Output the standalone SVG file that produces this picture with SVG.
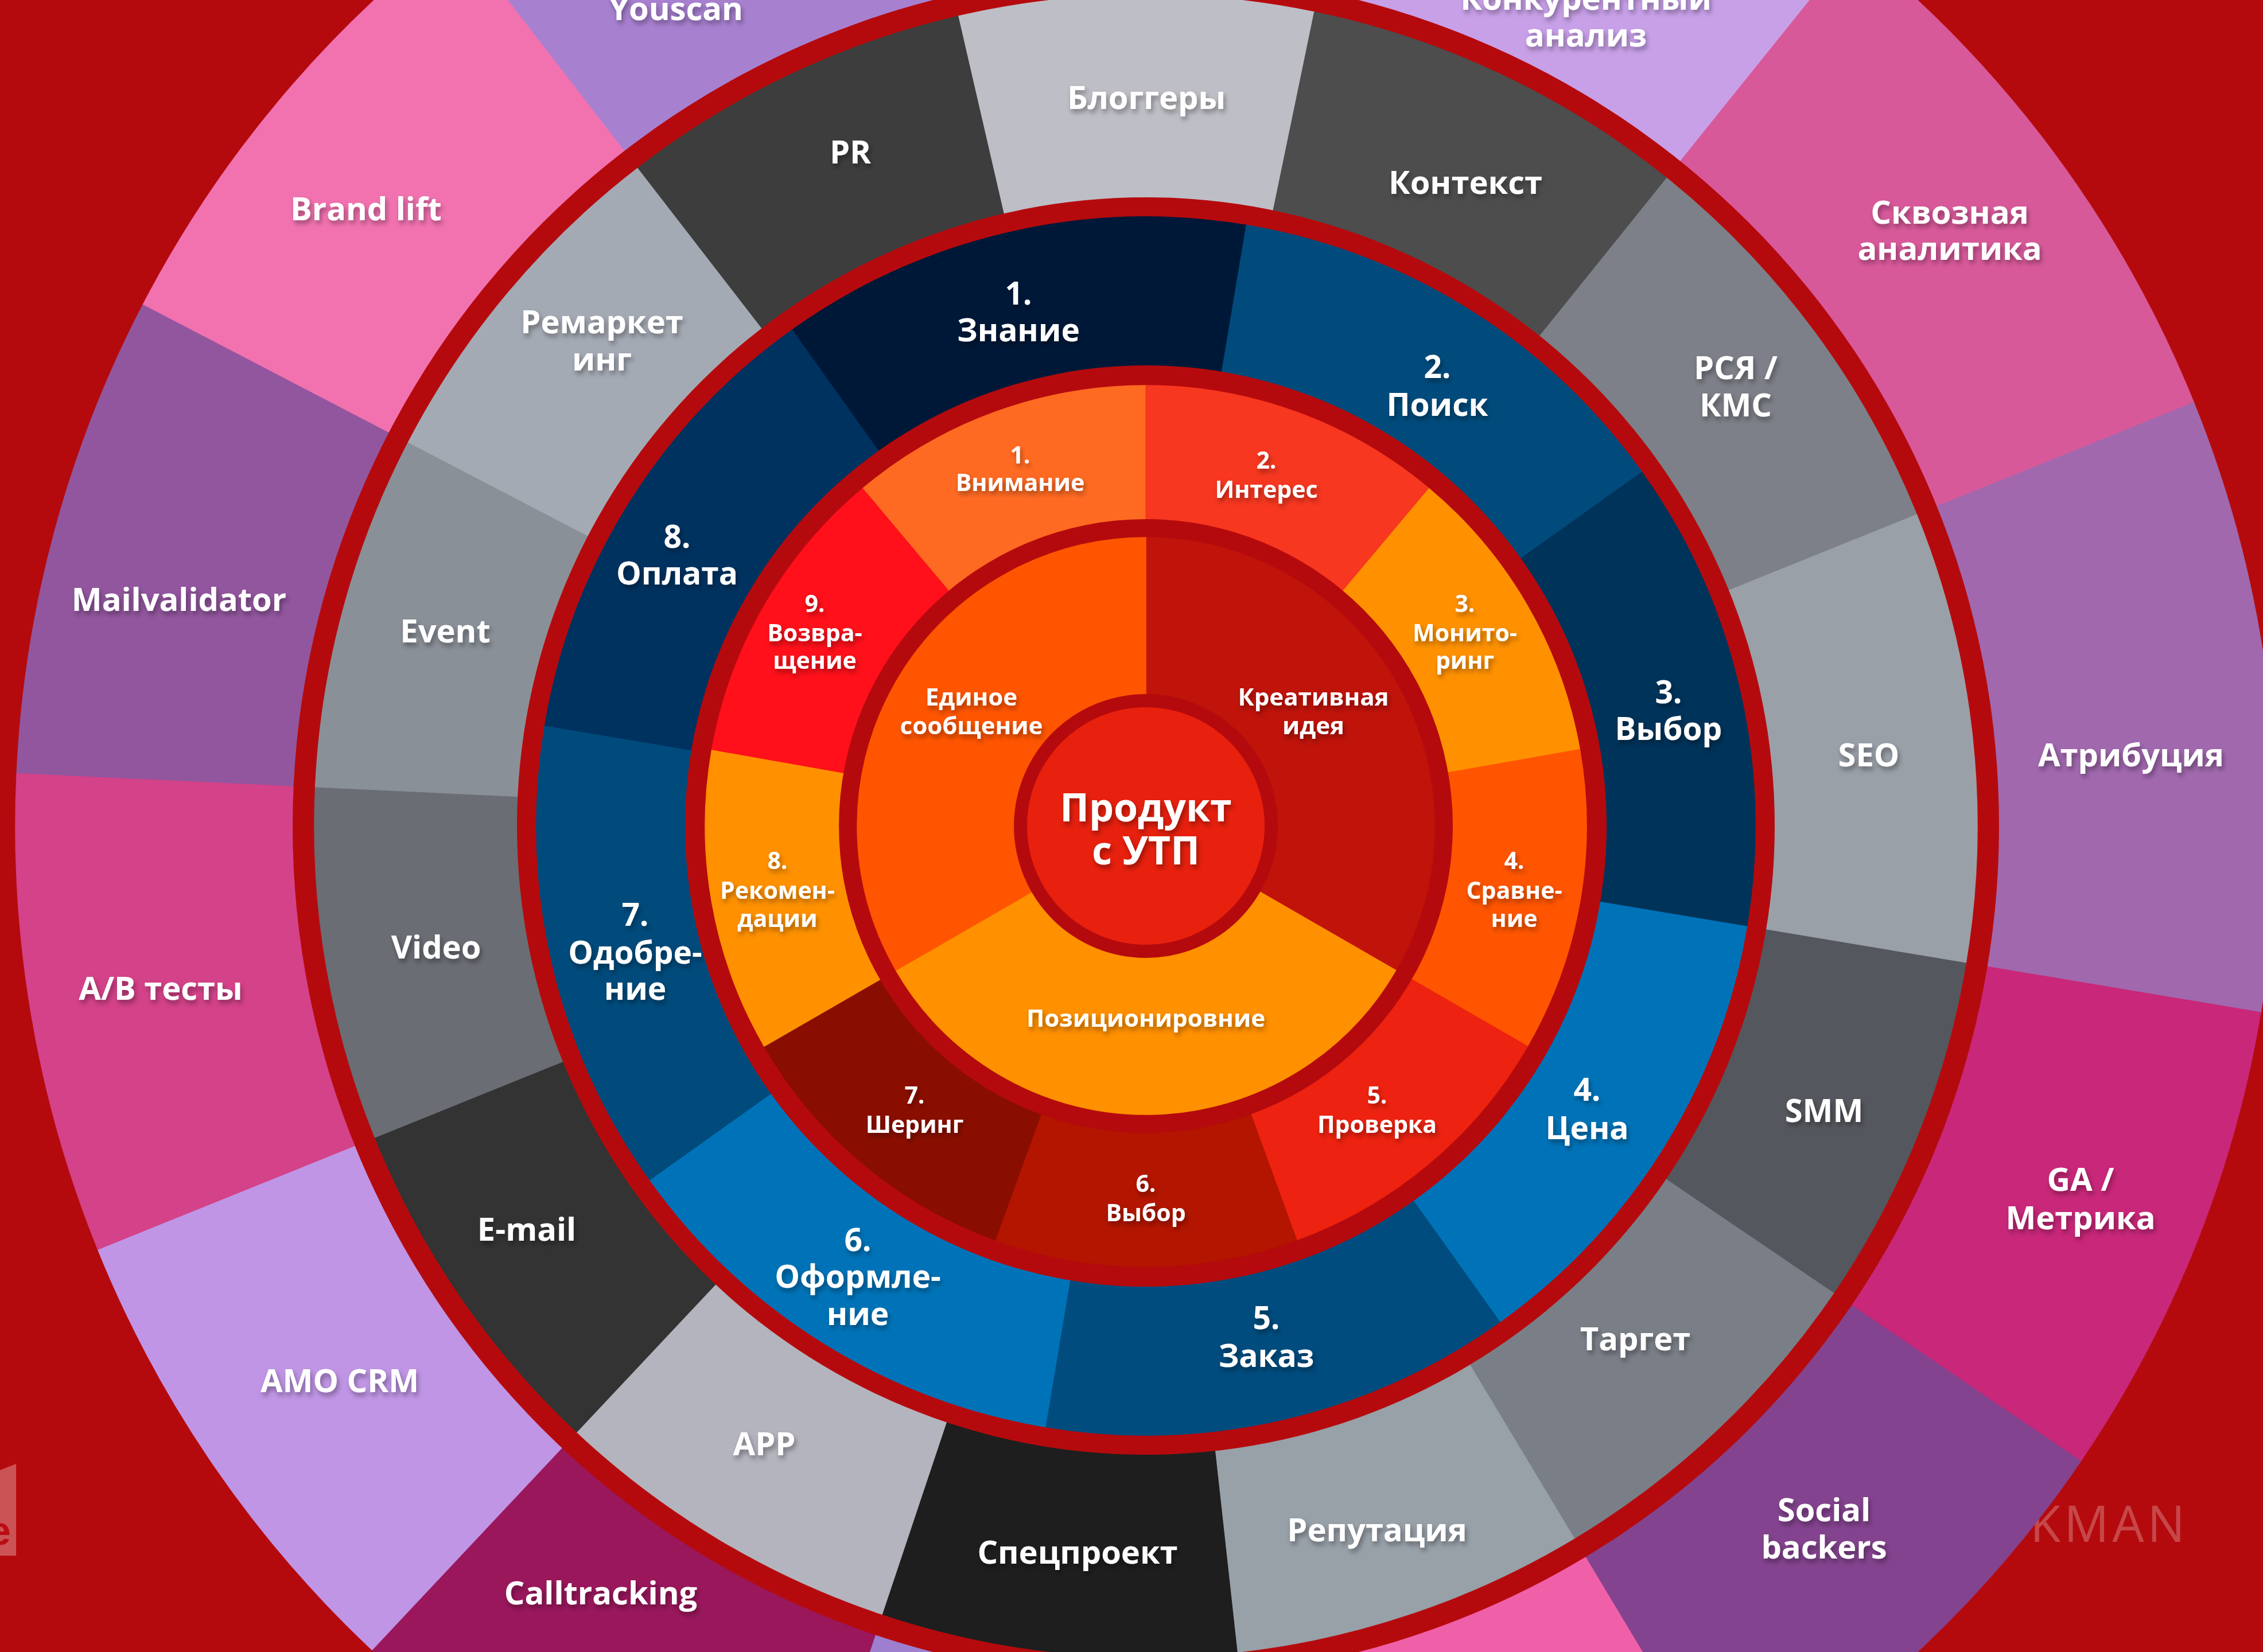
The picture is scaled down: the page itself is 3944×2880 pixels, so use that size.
<svg xmlns="http://www.w3.org/2000/svg" width="3944" height="2880" viewBox="0 0 3944 2880">
<defs>
<style>
.s{fill:currentColor;stroke:currentColor;stroke-width:1.5}
.sep{fill:#B50A0D}
.t{font-family:"Open Sans","Noto Sans","DejaVu Sans",sans-serif;font-weight:700;fill:#FFFFFF;text-anchor:middle;filter:url(#sh)}
.c{font-size:68px}
.r2{font-size:42px}
.r3{font-size:41px}
.r4{font-size:55px}
.r5{font-size:56px}
.r6{font-size:56px}
.wm{font-family:"Open Sans","Noto Sans",sans-serif;fill:#FFFFFF;fill-opacity:0.25}
</style>
<filter id="sh" x="-20%" y="-40%" width="140%" height="180%"><feDropShadow dx="3" dy="6" stdDeviation="4" flood-color="#000000" flood-opacity="0.35"/></filter>
</defs>
<rect id="background" x="0" y="0" width="3944" height="2880" fill="#B50A0D"/>
<g id="watermarks">
<polygon points="0,2563 28,2552 28,2712 0,2712" fill="#FFFFFF" fill-opacity="0.3"/>
<text x="19" y="2693" font-family="Liberation Sans, Arial, sans-serif" font-weight="700" font-size="70" fill="#BA0C12" text-anchor="end">e</text>
<text class="wm" x="3538" y="2688" font-size="87" font-weight="500" letter-spacing="6">KMAN</text>
</g>
<g id="ring6">
<g id="n-youscan" color="#A880D0"><path class="s" d="M1997 1440L792.3 -118.7A1970 1970 0 0 1 1997 -530Z"/><text class="t r6" x="1178" y="35">Youscan</text></g>
<g id="n-konkurent" color="#C8A0E8"><path class="s" d="M1997 1440L1997 -530A1970 1970 0 0 1 3231.4 -95.3Z"/><text class="t r6" x="2764"><tspan x="2764" y="17">Конкурентный</tspan><tspan x="2764" y="81">анализ</tspan></text></g>
<g id="n-skvoznaya" color="#D8599A"><path class="s" d="M1997 1440L3231.4 -95.3A1970 1970 0 0 1 3823.5 702Z"/><text class="t r6"><tspan x="3398" y="390">Сквозная</tspan><tspan x="3398" y="453">аналитика</tspan></text></g>
<g id="n-atribuciya" color="#A168AE"><path class="s" d="M1997 1440L3823.5 702A1970 1970 0 0 1 3940 1765.1Z"/><text class="t r6" x="3714" y="1336">Атрибуция</text></g>
<g id="n-ga" color="#C92779"><path class="s" d="M1997 1440L3940 1765.1A1970 1970 0 0 1 3626.3 2547.3Z"/><text class="t r6"><tspan x="3626" y="2076">GA /</tspan><tspan x="3626" y="2143">Метрика</tspan></text></g>
<g id="n-socialbackers" color="#84438F"><path class="s" d="M1997 1440L3626.3 2547.3A1970 1970 0 0 1 3011.6 3128.6Z"/><text class="t r6"><tspan x="3179" y="2652">Social</tspan><tspan x="3179" y="2717">backers</tspan></text></g>
<g id="n-pink" color="#F060A8"><path class="s" d="M1997 1440L3011.6 3128.6A1970 1970 0 0 1 2213.2 3398.1Z"/></g>
<g id="n-lilac" color="#9E7FCF"><path class="s" d="M1997 1440L2213.2 3398.1A1970 1970 0 0 1 1371.9 3308.2Z"/></g>
<g id="n-calltracking" color="#9A175C"><path class="s" d="M1997 1440L1371.9 3308.2A1970 1970 0 0 1 648.4 2876.1Z"/><text class="t r6" x="1047" y="2797">Calltracking</text></g>
<g id="n-amocrm" color="#C095E5"><path class="s" d="M1997 1440L648.4 2876.1A1970 1970 0 0 1 170.5 2178Z"/><text class="t r6" x="592" y="2427">AMO CRM</text></g>
<g id="n-abtests" color="#D44289"><path class="s" d="M1997 1440L170.5 2178A1970 1970 0 0 1 29.2 1347.2Z"/><text class="t r6" x="280" y="1743">A/B тесты</text></g>
<g id="n-mailvalidator" color="#92569E"><path class="s" d="M1997 1440L29.2 1347.2A1970 1970 0 0 1 249.6 530.4Z"/><text class="t r6" x="312" y="1065">Mailvalidator</text></g>
<g id="n-brandlift" color="#F272B0"><path class="s" d="M1997 1440L249.6 530.4A1970 1970 0 0 1 792.3 -118.7Z"/><text class="t r6" x="638" y="384">Brand lift</text></g>
</g>
<circle class="sep" cx="1997" cy="1440" r="1487"/>
<g id="ring5">
<g id="n-pr" color="#3D3D3D"><path class="s" d="M1997 1440L1110.9 293.5A1449 1449 0 0 1 1671 28.1Z"/><text class="t r5" x="1482" y="285">PR</text></g>
<g id="n-bloggery" color="#BEBEC6"><path class="s" d="M1997 1440L1671 28.1A1449 1449 0 0 1 2290.8 21.1Z"/><text class="t r5" x="1998" y="190">Блоггеры</text></g>
<g id="n-kontekst" color="#4D4D4D"><path class="s" d="M1997 1440L2290.8 21.1A1449 1449 0 0 1 2904.9 310.7Z"/><text class="t r5" x="2554" y="338">Контекст</text></g>
<g id="n-rsya" color="#7D8088"><path class="s" d="M1997 1440L2904.9 310.7A1449 1449 0 0 1 3340.5 897.2Z"/><text class="t r5"><tspan x="3025" y="661">РСЯ /</tspan><tspan x="3025" y="726">КМС</tspan></text></g>
<g id="n-seo" color="#9AA0A8"><path class="s" d="M1997 1440L3340.5 897.2A1449 1449 0 0 1 3426.1 1679.2Z"/><text class="t r5" x="3257" y="1336">SEO</text></g>
<g id="n-smm" color="#55575E"><path class="s" d="M1997 1440L3426.1 1679.2A1449 1449 0 0 1 3195.4 2254.4Z"/><text class="t r5" x="3179" y="1956">SMM</text></g>
<g id="n-target" color="#7A7F87"><path class="s" d="M1997 1440L3195.4 2254.4A1449 1449 0 0 1 2743.3 2682Z"/><text class="t r5" x="2850" y="2354">Таргет</text></g>
<g id="n-reputaciya" color="#98A0A8"><path class="s" d="M1997 1440L2743.3 2682A1449 1449 0 0 1 2156 2880.2Z"/><text class="t r5" x="2400" y="2687">Репутация</text></g>
<g id="n-specproekt" color="#1E1E1E"><path class="s" d="M1997 1440L2156 2880.2A1449 1449 0 0 1 1537.2 2814.1Z"/><text class="t r5" x="1878" y="2726">Спецпроект</text></g>
<g id="n-app" color="#B4B4BE"><path class="s" d="M1997 1440L1537.2 2814.1A1449 1449 0 0 1 1005.1 2496.3Z"/><text class="t r5" x="1332" y="2537">APP</text></g>
<g id="n-email" color="#333333"><path class="s" d="M1997 1440L1005.1 2496.3A1449 1449 0 0 1 653.5 1982.8Z"/><text class="t r5" x="918" y="2163">E-mail</text></g>
<g id="n-video" color="#6A6D74"><path class="s" d="M1997 1440L653.5 1982.8A1449 1449 0 0 1 549.6 1371.7Z"/><text class="t r5" x="760" y="1671">Video</text></g>
<g id="n-event" color="#8A9098"><path class="s" d="M1997 1440L549.6 1371.7A1449 1449 0 0 1 711.7 770.9Z"/><text class="t r5" x="776" y="1120">Event</text></g>
<g id="n-remarketing" color="#A4AAB4"><path class="s" d="M1997 1440L711.7 770.9A1449 1449 0 0 1 1110.9 293.5Z"/><text class="t r5"><tspan x="1049" y="581">Ремаркет</tspan><tspan x="1049" y="646">инг</tspan></text></g>
</g>
<circle class="sep" cx="1997" cy="1440" r="1096"/>
<g id="ring4">
<g id="n-znanie" color="#001838"><path class="s" d="M1997 1440L1380.3 575.4A1062 1062 0 0 1 2172.3 392.6Z"/><text class="t r4"><tspan x="1775" y="531">1.</tspan><tspan x="1775" y="595">Знание</tspan></text></g>
<g id="n-poisk" color="#004B7C"><path class="s" d="M1997 1440L2172.3 392.6A1062 1062 0 0 1 2861.6 823.3Z"/><text class="t r4"><tspan x="2505" y="659">2.</tspan><tspan x="2505" y="725">Поиск</tspan></text></g>
<g id="n-vybor3" color="#00335A"><path class="s" d="M1997 1440L2861.6 823.3A1062 1062 0 0 1 3044.4 1615.3Z"/><text class="t r4"><tspan x="2908" y="1226">3.</tspan><tspan x="2908" y="1290">Выбор</tspan></text></g>
<g id="n-cena" color="#0073B8"><path class="s" d="M1997 1440L3044.4 1615.3A1062 1062 0 0 1 2613.7 2304.6Z"/><text class="t r4"><tspan x="2766" y="1919">4.</tspan><tspan x="2766" y="1986">Цена</tspan></text></g>
<g id="n-zakaz" color="#004C7E"><path class="s" d="M1997 1440L2613.7 2304.6A1062 1062 0 0 1 1821.7 2487.4Z"/><text class="t r4"><tspan x="2207" y="2317">5.</tspan><tspan x="2207" y="2383">Заказ</tspan></text></g>
<g id="n-oformlenie" color="#0073B8"><path class="s" d="M1997 1440L1821.7 2487.4A1062 1062 0 0 1 1132.4 2056.7Z"/><text class="t r4"><tspan x="1495" y="2181">6.</tspan><tspan x="1495" y="2245">Оформле-</tspan><tspan x="1495" y="2310">ние</tspan></text></g>
<g id="n-odobrenie" color="#004B7C"><path class="s" d="M1997 1440L1132.4 2056.7A1062 1062 0 0 1 949.6 1264.7Z"/><text class="t r4"><tspan x="1107" y="1614">7.</tspan><tspan x="1107" y="1680">Одобре-</tspan><tspan x="1107" y="1743">ние</tspan></text></g>
<g id="n-oplata" color="#003260"><path class="s" d="M1997 1440L949.6 1264.7A1062 1062 0 0 1 1380.3 575.4Z"/><text class="t r4"><tspan x="1180" y="955">8.</tspan><tspan x="1180" y="1019">Оплата</tspan></text></g>
</g>
<circle class="sep" cx="1997" cy="1440" r="803"/>
<g id="ring3">
<g id="n-vnimanie" color="#FF6A22"><path class="s" d="M1997 1440L1503.3 851.7A768 768 0 0 1 1997 672Z"/><text class="t r3"><tspan x="1778" y="808">1.</tspan><tspan x="1778" y="856">Внимание</tspan></text></g>
<g id="n-interes" color="#F73720"><path class="s" d="M1997 1440L1997 672A768 768 0 0 1 2490.7 851.7Z"/><text class="t r3"><tspan x="2207" y="817">2.</tspan><tspan x="2207" y="868">Интерес</tspan></text></g>
<g id="n-monitoring" color="#FF9100"><path class="s" d="M1997 1440L2490.7 851.7A768 768 0 0 1 2753.3 1306.6Z"/><text class="t r3"><tspan x="2553" y="1067">3.</tspan><tspan x="2553" y="1118">Монито-</tspan><tspan x="2553" y="1166">ринг</tspan></text></g>
<g id="n-sravnenie" color="#FF5500"><path class="s" d="M1997 1440L2753.3 1306.6A768 768 0 0 1 2662.1 1824Z"/><text class="t r3"><tspan x="2639" y="1515">4.</tspan><tspan x="2639" y="1567">Сравне-</tspan><tspan x="2639" y="1616">ние</tspan></text></g>
<g id="n-proverka" color="#EE2210"><path class="s" d="M1997 1440L2662.1 1824A768 768 0 0 1 2259.7 2161.7Z"/><text class="t r3"><tspan x="2400" y="1924">5.</tspan><tspan x="2400" y="1975">Проверка</tspan></text></g>
<g id="n-vybor6" color="#B31500"><path class="s" d="M1997 1440L2259.7 2161.7A768 768 0 0 1 1734.3 2161.7Z"/><text class="t r3"><tspan x="1997" y="2078">6.</tspan><tspan x="1997" y="2129">Выбор</tspan></text></g>
<g id="n-shering" color="#8A0E00"><path class="s" d="M1997 1440L1734.3 2161.7A768 768 0 0 1 1331.9 1824Z"/><text class="t r3"><tspan x="1594" y="1924">7.</tspan><tspan x="1594" y="1975">Шеринг</tspan></text></g>
<g id="n-rekomendacii" color="#FF9100"><path class="s" d="M1997 1440L1331.9 1824A768 768 0 0 1 1240.7 1306.6Z"/><text class="t r3"><tspan x="1355" y="1515">8.</tspan><tspan x="1355" y="1567">Рекомен-</tspan><tspan x="1355" y="1616">дации</tspan></text></g>
<g id="n-vozvrashchenie" color="#FF101A"><path class="s" d="M1997 1440L1240.7 1306.6A768 768 0 0 1 1503.3 851.7Z"/><text class="t r3"><tspan x="1420" y="1067">9.</tspan><tspan x="1420" y="1118">Возвра-</tspan><tspan x="1420" y="1166">щение</tspan></text></g>
</g>
<circle class="sep" cx="1997" cy="1440" r="535"/>
<g id="ring2">
<g id="n-kreativ" color="#C0130A"><path class="s" d="M1997 1440L1997 937A503 503 0 0 1 2432.6 1691.5Z"/><text class="t r2"><tspan x="2289" y="1230">Креативная</tspan><tspan x="2289" y="1280">идея</tspan></text></g>
<g id="n-pozicionirovanie" color="#FF9000"><path class="s" d="M1997 1440L2432.6 1691.5A503 503 0 0 1 1561.4 1691.5Z"/><text class="t r2" x="1997" y="1790">Позиционировние</text></g>
<g id="n-edinoe" color="#FF5500"><path class="s" d="M1997 1440L1561.4 1691.5A503 503 0 0 1 1997 937Z"/><text class="t r2"><tspan x="1693" y="1230">Единое</tspan><tspan x="1693" y="1280">сообщение</tspan></text></g>
</g>
<g id="n-center">
<circle class="sep" cx="1997" cy="1440" r="230"/>
<circle cx="1997" cy="1440" r="207" fill="#E8200E"/>
<text class="t c"><tspan x="1997" y="1432">Продукт</tspan><tspan x="1997" y="1507">с УТП</tspan></text>
</g>
</svg>
